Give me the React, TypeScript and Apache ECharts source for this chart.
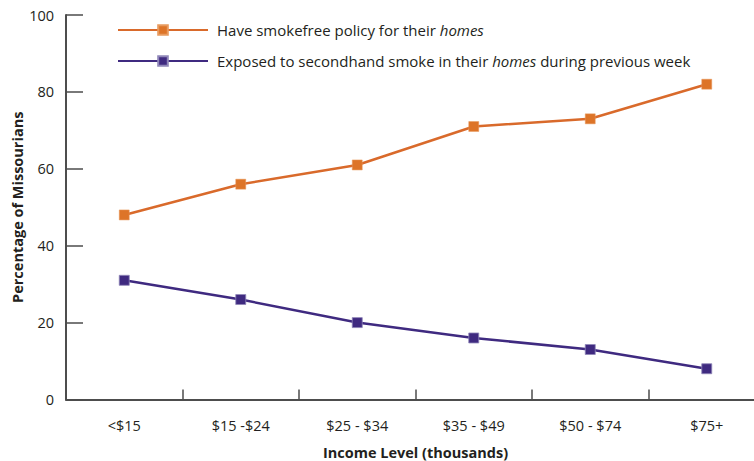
import React, { useEffect, useRef } from "react";
import * as echarts from "echarts";

const categories = ["<$15", "$15 -$24", "$25 - $34", "$35 - $49", "$50 - $74", "$75+"];
const smokefreeName = "Have smokefree policy for their homes";
const exposedName = "Exposed to secondhand smoke in their homes during previous week";
const smokefreeValues = [48, 56, 61, 71, 73, 82];
const exposedValues = [31, 26, 20, 16, 13, 8];
const yTicks = [0, 20, 40, 60, 80, 100];

const FONT = "'Open Sans', 'Noto Sans', sans-serif";
const TEXT = "#231f20";
const AXIS = "#4d4d4d";
const FS = 14.5;
const LFS = 15;

export default function App() {
  const ref = useRef<HTMLDivElement>(null);
  useEffect(() => {
    if (!ref.current) return;
    const chart = echarts.init(ref.current, undefined, { renderer: "svg" });
    chart.setOption({
      animation: false,
      textStyle: { fontFamily: FONT, color: TEXT },
      grid: {
        left: 66,
        top: 15,
        width: 699,
        bottom: 61.5,
        containLabel: false,
        outerBoundsMode: "none",
      },
      legend: {
        orient: "vertical",
        left: 117,
        top: 22,
        padding: 0,
        itemWidth: 90,
        itemHeight: 12,
        itemGap: 15,
        data: [smokefreeName, exposedName],
        textStyle: {
          fontFamily: FONT,
          fontSize: LFS,
          lineHeight: 16,
          color: TEXT,
          padding: [0, 0, 0, 4],
          rich: {
            i: { fontStyle: "italic", fontFamily: FONT, fontSize: LFS, lineHeight: 16, color: TEXT },
          },
        },
        formatter: (name: string) => name.replace("homes", "{i|homes}"),
      },
      xAxis: {
        type: "category",
        data: categories,
        boundaryGap: true,
        name: "Income Level (thousands)",
        nameLocation: "middle",
        nameGap: 45,
        nameMoveOverlap: false,
        nameTextStyle: { fontFamily: FONT, fontWeight: "bold", fontSize: FS, color: TEXT },
        axisLine: { show: true, lineStyle: { color: AXIS, width: 2 } },
        axisTick: { show: true, inside: true, length: 10, interval: 0, lineStyle: { color: AXIS, width: 1.5 } },
        axisLabel: { margin: 18, fontSize: FS, color: TEXT, fontFamily: FONT, interval: 0 },
        splitLine: { show: false },
      },
      yAxis: {
        type: "value",
        min: yTicks[0],
        max: yTicks[yTicks.length - 1],
        interval: 20,
        name: "Percentage of Missourians",
        nameLocation: "middle",
        nameGap: 41,
        nameMoveOverlap: false,
        nameRotate: 90,
        nameTextStyle: { fontFamily: FONT, fontWeight: "bold", fontSize: FS, color: TEXT },
        axisLine: { show: true, lineStyle: { color: AXIS, width: 2 } },
        axisTick: { show: true, inside: true, length: 17, lineStyle: { color: AXIS, width: 1.5 } },
        axisLabel: { margin: 12, fontSize: FS, color: TEXT, fontFamily: FONT },
        splitLine: { show: false },
      },
      series: [
        {
          name: smokefreeName,
          type: "line",
          data: smokefreeValues,
          symbol: "rect",
          symbolSize: 10,
          lineStyle: { color: "#d96a2b", width: 2.5 },
          itemStyle: { color: "#dd7428", borderColor: "#e89a5e", borderWidth: 0.5 },
        },
        {
          name: exposedName,
          type: "line",
          data: exposedValues,
          symbol: "rect",
          symbolSize: 10,
          lineStyle: { color: "#3f2a80", width: 2.5 },
          itemStyle: { color: "#3f2a80", borderColor: "#8f86b8", borderWidth: 0.8 },
        },
      ],
    });
    return () => chart.dispose();
  }, []);
  return (
    <div
      style={{
        position: "fixed",
        left: 0,
        top: 0,
        width: 754,
        height: 461,
        overflow: "hidden",
        background: "#fff",
      }}
    >
      <div ref={ref} style={{ position: "absolute", left: 0, top: 0, width: 780, height: 461 }} />
    </div>
  );
}
